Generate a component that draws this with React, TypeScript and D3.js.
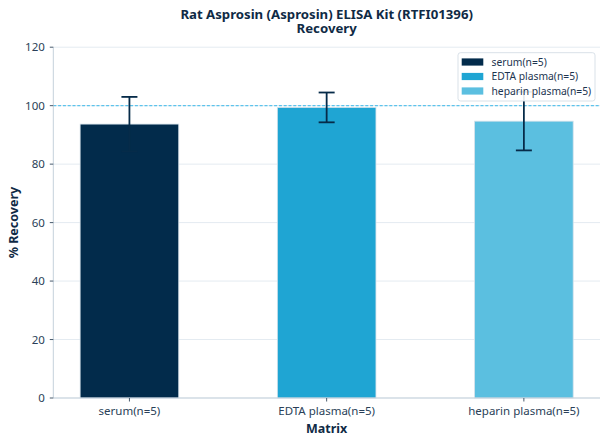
import React from "react";
import * as d3 from "d3";

const categories = ["serum(n=5)", "EDTA plasma(n=5)", "heparin plasma(n=5)"];
const recovery = [93.7, 99.4, 94.7];
const errors = [9.3, 5.1, 10.0];
const colors = ["#022b4b", "#1fa5d3", "#5bbfe0"];
const yTicks = [0, 20, 40, 60, 80, 100, 120];
const titleLines = ["Rat Asprosin (Asprosin) ELISA Kit (RTFI01396)", "Recovery"];

const W = 608;
const H = 444;
const margin = { left: 53.3, right: 8, top: 47.2, bottom: 46 };
const font = "'Noto Sans', 'Open Sans', sans-serif";

export default function App() {
  const x = d3.scaleLinear().domain([-0.386, 2.386]).range([margin.left, W - margin.right]);
  const y = d3.scaleLinear().domain([0, 120]).range([H - margin.bottom, margin.top]);
  const unit = x(1) - x(0);
  const barW = unit * 0.5;
  const capW = 16;
  const x0 = margin.left;
  const x1 = W - margin.right;
  const cx = (x0 + x1) / 2;

  return (
    <svg
      width={W}
      height={H}
      style={{ position: "fixed", left: 0, top: 0, background: "#fff" }}
      fontFamily={font}
    >
      {/* grid */}
      {yTicks.map((t) => (
        <line key={"g" + t} x1={x0} x2={x1} y1={y(t)} y2={y(t)} stroke="#e4ebf1" strokeWidth={1} />
      ))}
      {/* bars */}
      {categories.map((c, i) => (
        <rect
          key={c}
          x={x(i) - barW / 2}
          y={y(recovery[i])}
          width={barW}
          height={y(0) - y(recovery[i])}
          fill={colors[i]}
          stroke="#d6e2ea"
          strokeWidth={0.8}
        />
      ))}
      {/* reference line at 100 */}
      <line x1={x0} x2={x1} y1={y(100)} y2={y(100)} stroke="#5cc3ec" strokeWidth={1.1} strokeDasharray="3,1.8" />
      {/* error bars */}
      {categories.map((c, i) => {
        const bx = x(i);
        const hi = y(recovery[i] + errors[i]);
        const lo = y(recovery[i] - errors[i]);
        return (
          <g key={"e" + c} stroke="#062b49" strokeWidth={1.8}>
            <line x1={bx} x2={bx} y1={hi} y2={lo} />
            <line x1={bx - capW / 2} x2={bx + capW / 2} y1={hi} y2={hi} />
            <line x1={bx - capW / 2} x2={bx + capW / 2} y1={lo} y2={lo} />
          </g>
        );
      })}
      {/* spines */}
      <line x1={x0} x2={x0} y1={y(120)} y2={y(0)} stroke="#c5d1db" strokeWidth={1} />
      <line x1={x0} x2={x1} y1={y(0)} y2={y(0)} stroke="#c5d1db" strokeWidth={1} />
      {/* y ticks */}
      {yTicks.map((t) => (
        <g key={"yt" + t}>
          <line x1={x0 - 3.5} x2={x0} y1={y(t)} y2={y(t)} stroke="#33475c" strokeWidth={0.9} />
          <text x={x0 - 8.5} y={y(t)} dy="0.35em" textAnchor="end" fontSize={11.5} fill="#2a3f58">
            {t}
          </text>
        </g>
      ))}
      {/* x ticks */}
      {categories.map((c, i) => (
        <g key={"xt" + c}>
          <line x1={x(i)} x2={x(i)} y1={y(0)} y2={y(0) + 3.5} stroke="#33475c" strokeWidth={0.9} />
          <text x={x(i)} y={y(0) + 17} textAnchor="middle" fontSize={11.5} fill="#2a3f58">
            {c}
          </text>
        </g>
      ))}
      {/* axis labels */}
      <text x={cx} y={433} textAnchor="middle" fontSize={12.5} fontWeight="bold" fill="#0f2a45">
        Matrix
      </text>
      <text
        transform={`translate(18, ${(y(0) + y(120)) / 2}) rotate(-90)`}
        textAnchor="middle"
        fontSize={12.5}
        fontWeight="bold"
        fill="#0f2a45"
      >
        % Recovery
      </text>
      {/* title */}
      <text x={cx} y={18.6} textAnchor="middle" fontSize={13.2} fontWeight="bold" fill="#0f2a45">
        {titleLines.map((t, i) => (
          <tspan key={t} x={cx} dy={i === 0 ? 0 : 14.8}>
            {t}
          </tspan>
        ))}
      </text>
      {/* legend */}
      <g>
        <rect x={458} y={52.7} width={137} height={48.3} rx={2.5} fill="#fff" fillOpacity={0.9} stroke="#d5dee5" strokeWidth={0.9} />
        {categories.map((c, i) => (
          <g key={"l" + c} transform={`translate(0, ${62 + i * 14.5})`}>
            <rect x={461.7} y={-3.6} width={21.6} height={7.2} fill={colors[i]} />
            <text x={491.5} y={0} dy="0.35em" fontSize={10.3} fill="#1d3550">
              {c}
            </text>
          </g>
        ))}
      </g>
    </svg>
  );
}
